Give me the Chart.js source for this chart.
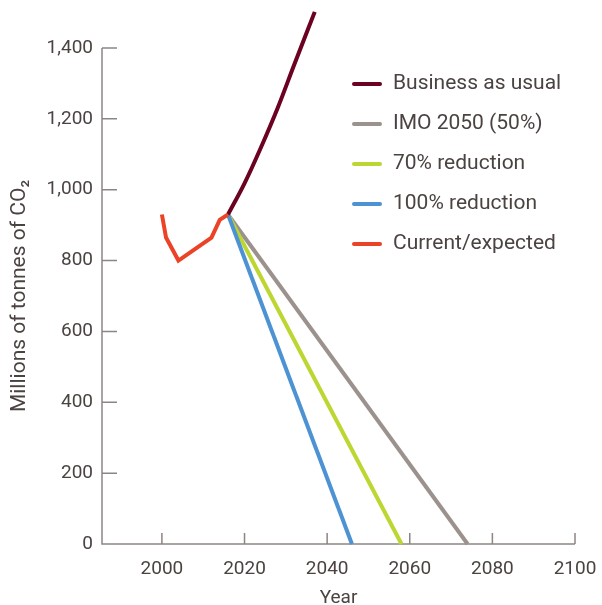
<!DOCTYPE html>
<html>
<head>
<meta charset="utf-8">
<script src="https://cdn.jsdelivr.net/npm/chart.js@4/dist/chart.umd.min.js"></script>
<style>
  body { margin: 0; background: #fff; }
</style>
</head>
<body>
<canvas id="myChart" width="602" height="605"></canvas>
<script>
// data
var currentYears = [2000, 2001, 2004, 2012, 2014, 2016];
var currentValues = [930, 865, 800, 865, 915, 930];
var bauYears = [2016, 2020, 2024, 2028, 2032, 2037];
var bauValues = [930, 1018, 1120, 1230, 1352, 1502];
var imoYears = [2016, 2074];
var imoValues = [930, 0];
var cut70Years = [2016, 2058];
var cut70Values = [930, 0];
var cut100Years = [2016, 2046];
var cut100Values = [930, 0];

var xTicks = [2000, 2020, 2040, 2060, 2080, 2100];
var yTicks = [0, 200, 400, 600, 800, 1000, 1200, 1400];

var seriesNames = ["Business as usual", "IMO 2050 (50%)", "70% reduction", "100% reduction", "Current/expected"];
var seriesColors = ["#6c0221", "#9b928d", "#bdd632", "#4d92d2", "#ea4327"];

var textColor = "#4b4341";
var axisColor = "#8d8582";
var fontName = "Roboto";

function pts(xs, ys) {
    return xs.map(function(x, i) { return { x: x, y: ys[i] }; });
}

// axis lines and inward tick marks
var insideAxes = {
    id: 'insideAxes',
    beforeDatasetsDraw: function(chart) {
        var ctx = chart.ctx;
        var xs = chart.scales.x, ys = chart.scales.y;
        var x0 = xs.left, y0 = ys.getPixelForValue(0);
        ctx.save();
        ctx.strokeStyle = axisColor;
        ctx.lineWidth = 1.5;
        ctx.beginPath();
        ctx.moveTo(x0, ys.getPixelForValue(1400));
        ctx.lineTo(x0, y0);
        ctx.lineTo(xs.getPixelForValue(2100), y0);
        yTicks.forEach(function(v) {
            var py = ys.getPixelForValue(v);
            ctx.moveTo(x0, py);
            ctx.lineTo(x0 + 15, py);
        });
        xTicks.forEach(function(v) {
            var px = xs.getPixelForValue(v);
            ctx.moveTo(px, y0);
            ctx.lineTo(px, y0 - 11);
        });
        ctx.stroke();
        ctx.restore();
    }
};

// legend drawn inside the plot
var innerLegend = {
    id: 'innerLegend',
    afterDraw: function(chart) {
        var ctx = chart.ctx;
        ctx.save();
        ctx.font = "21px " + fontName;
        ctx.textBaseline = "middle";
        seriesNames.forEach(function(name, i) {
            var y = 84 + i * 40;
            ctx.strokeStyle = seriesColors[i];
            ctx.lineWidth = 4;
            ctx.lineCap = "round";
            ctx.beginPath();
            ctx.moveTo(354, y);
            ctx.lineTo(380, y);
            ctx.stroke();
            ctx.fillStyle = textColor;
            ctx.fillText(name, 393, y);
        });
        ctx.restore();
    }
};

function lineSet(label, data, color, order) {
    return {
        label: label,
        data: data,
        borderColor: color,
        backgroundColor: color,
        borderWidth: 4,
        pointRadius: 0,
        clip: false,
        order: order
    };
}

var bauSet = lineSet(seriesNames[0], pts(bauYears, bauValues), seriesColors[0], 1);
bauSet.cubicInterpolationMode = 'monotone';

var ctx = document.getElementById("myChart");
var myChart = new Chart(ctx, {
    type: 'line',
    data: {
        datasets: [
            lineSet(seriesNames[4], pts(currentYears, currentValues), seriesColors[4], 0),
            bauSet,
            lineSet(seriesNames[3], pts(cut100Years, cut100Values), seriesColors[3], 2),
            lineSet(seriesNames[2], pts(cut70Years, cut70Values), seriesColors[2], 3),
            lineSet(seriesNames[1], pts(imoYears, imoValues), seriesColors[1], 4)
        ]
    },
    options: {
        responsive: false,
        animation: false,
        layout: { padding: { top: 48, right: 27, left: 0, bottom: 0 } },
        plugins: { legend: { display: false }, tooltip: { enabled: false } },
        scales: {
            x: {
                type: 'linear',
                min: 1985.5,
                max: 2100,
                afterBuildTicks: function(scale) {
                    scale.ticks = xTicks.map(function(v) { return { value: v }; });
                },
                afterFit: function(scale) {
                    scale.height = 61;
                    scale.paddingLeft = 0;
                    scale.paddingRight = 0;
                },
                grid: { display: false, drawTicks: false },
                border: { display: false },
                ticks: {
                    color: textColor,
                    font: { family: fontName, size: 19 },
                    padding: 14,
                    maxRotation: 0,
                    callback: function(v) { return String(v); }
                },
                title: {
                    display: true,
                    text: "Year",
                    color: textColor,
                    font: { family: fontName, size: 19, lineHeight: 0.7 },
                    padding: { top: 0, bottom: 0 }
                }
            },
            y: {
                type: 'linear',
                min: 0,
                max: 1400,
                afterBuildTicks: function(scale) {
                    scale.ticks = yTicks.map(function(v) { return { value: v }; });
                },
                afterFit: function(scale) {
                    scale.width = 102;
                    scale.paddingTop = 0;
                    scale.paddingBottom = 0;
                },
                grid: { display: false, drawTicks: false },
                border: { display: false },
                ticks: {
                    color: textColor,
                    font: { family: fontName, size: 19 },
                    padding: 9,
                    callback: function(v) { return v.toLocaleString('en-US'); }
                },
                title: {
                    display: true,
                    text: "Millions of tonnes of CO\u2082",
                    color: textColor,
                    font: { family: fontName, size: 21, lineHeight: 1.2 },
                    padding: { top: 7, bottom: 0 }
                }
            }
        }
    },
    plugins: [insideAxes, innerLegend]
});
</script>
</body>
</html>
